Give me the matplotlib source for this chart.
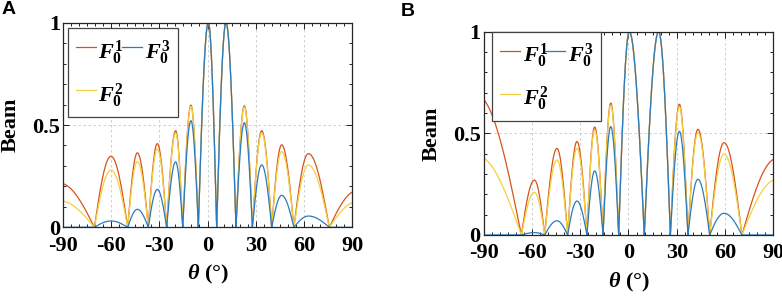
import numpy as np
import matplotlib
matplotlib.use('Agg')
import matplotlib.pyplot as plt
from matplotlib.ticker import MultipleLocator

plt.rcParams['font.family'] = ['Liberation Serif', 'DejaVu Serif']
plt.rcParams['mathtext.fontset'] = 'custom'
plt.rcParams['mathtext.it'] = 'Liberation Serif:italic:bold'
plt.rcParams['mathtext.rm'] = 'Liberation Serif:bold'
plt.rcParams['axes.unicode_minus'] = False

# values: null angles, lobe peak angles, lobe peak heights
nulls_a = [-70.3, -49.6, -36.8, -25.4, -15.4, -5.7, 5.7, 17.7, 27.9, 39.9, 53.7, 75.7]
peaks_a = [-92, -60, -43.6, -31.2, -19.8, -10.3, 0.5, 11.5, 22.9, 33.7, 46.1, 62.7, 93]
f1_a = [0.216, 0.347, 0.364, 0.409, 0.472, 0.597, 1, 1, 0.594, 0.472, 0.403, 0.36, 0.179]
f2_a = [0.13, 0.279, 0.321, 0.383, 0.461, 0.591, 1, 1, 0.588, 0.461, 0.37, 0.304, 0.125]
f3_a = [0.0, 0.031, 0.088, 0.185, 0.32, 0.521, 1, 1, 0.511, 0.305, 0.156, 0.055, 0.0]

nulls_b = [-66.5, -52.0, -37.8, -25.8, -15.8, -6.1, 9.8, 26.0, 36.9, 50.4, 70.4]
peaks_b = [-94, -58.4, -44.4, -32.0, -21.0, -11.0, 0.5, 18.7, 31.6, 43.1, 59.3, 92]
f1_b = [0.685, 0.27, 0.426, 0.46, 0.531, 0.649, 1, 1, 0.643, 0.52, 0.454, 0.376]
f2_b = [0.39, 0.21, 0.369, 0.426, 0.516, 0.639, 1, 1, 0.631, 0.503, 0.398, 0.273]
f3_b = [0.0, 0.012, 0.07, 0.167, 0.315, 0.533, 1, 1, 0.51, 0.274, 0.107, 0.0]

labels = [r'$\mathit{F_0^1}$', r'$\mathit{F_0^2}$', r'$\mathit{F_0^3}$']
colors = ['#D95319', '#F2D140', '#2A7BC0']
xticks = [-90, -60, -30, 0, 30, 60, 90]
yticks = [0, 0.5, 1]
ytick_labels = ['0', '0.5', '1']


# draw each lobe as an arch between its two nulls, topped at the read peak
def beam(nulls, peaks, heights, x):
    bounds = [2 * peaks[0] - nulls[0]] + list(nulls) + [2 * peaks[-1] - nulls[-1]]
    y = np.zeros_like(x)
    for a, p, b, h in zip(bounds[:-1], peaks, bounds[1:], heights):
        m = (x >= a) & (x <= p)
        y[m] = h * np.sin(np.pi / 2 * (x[m] - a) / (p - a))
        m = (x > p) & (x <= b)
        y[m] = h * np.sin(np.pi / 2 * (b - x[m]) / (b - p))
    return y


def panel(ax, nulls, peaks, series, leg_box, ylab_x, letter):
    x = np.union1d(np.linspace(-90, 90, 3601), nulls)
    for h, c, lab in zip(series, colors, labels):
        ax.plot(x, beam(nulls, peaks, h, x), color=c, lw=0.9, label=lab)
    ax.set_xlim(-90, 90)
    ax.set_ylim(0, 1)
    ax.set_xticks(xticks)
    ax.set_yticks(yticks)
    ax.set_yticklabels(ytick_labels)
    ax.xaxis.set_minor_locator(MultipleLocator(5))
    ax.yaxis.set_minor_locator(MultipleLocator(0.1))
    ax.tick_params(which='both', direction='in', top=True, right=True, labelsize=16, width=0.6)
    ax.tick_params(which='major', length=4)
    ax.tick_params(which='minor', length=2)
    ax.tick_params(axis='x', pad=6)
    ax.tick_params(axis='y', pad=2)
    for t in ax.get_xticklabels() + ax.get_yticklabels():
        t.set_fontweight('bold')
    ax.grid(True, which='major', ls=(0, (3, 3)), color='#c8c8c8', lw=0.6)
    for s in ax.spines.values():
        s.set_linewidth(0.9)
        s.set_color('#262626')
    ax.set_ylabel('Beam', fontsize=16, fontweight='bold')
    ax.yaxis.set_label_coords(ylab_x, 0.5)
    ax.set_xlabel(r'$\theta$ (°)', fontsize=16, fontweight='bold')
    ax.xaxis.set_label_coords(0.5, -0.175)
    leg = ax.legend(ncol=2, loc='upper left', bbox_to_anchor=leg_box, mode='expand',
                    borderaxespad=0, fontsize=16, handlelength=0.9, handleheight=1.75,
                    handletextpad=0.12, columnspacing=0.15, labelspacing=0.55,
                    borderpad=0.35, fancybox=False, framealpha=1, edgecolor='#444444')
    leg.get_frame().set_linewidth(0.9)
    ax.figure.text(letter[1], letter[2], letter[0], fontsize=14, fontweight='bold',
                   family='Liberation Sans', va='top', ha='left')


fig = plt.figure(figsize=(7.82, 2.96), dpi=100)
ax_a = fig.add_axes([0.0802, 0.2321, 0.3703, 0.6912])
ax_b = fig.add_axes([0.6183, 0.2061, 0.3708, 0.6868])
panel(ax_a, nulls_a, peaks_a, [f1_a, f2_a, f3_a], (0.018, 0.974, 0.38, 0.0), -0.147,
      ('A', 0.002, 0.995))
panel(ax_b, nulls_b, peaks_b, [f1_b, f2_b, f3_b], (0.030, 1.0, 0.376, 0.0), -0.143,
      ('B', 0.512, 0.99))

fig.savefig('out.png', dpi=100)
